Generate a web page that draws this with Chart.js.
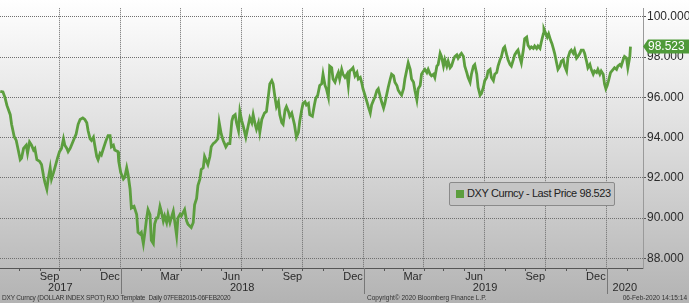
<!DOCTYPE html>
<html><head><meta charset="utf-8">
<script src="https://cdn.jsdelivr.net/npm/chart.js@4.4.1/dist/chart.umd.min.js"></script>
<style>
html,body{margin:0;padding:0;}
body{width:689px;height:303px;overflow:hidden;position:relative;background:linear-gradient(to bottom,#ffffff 0%,#e0e0e0 42%,#b3b3b3 100%);font-family:"Liberation Sans",Arial,sans-serif;}
#c{position:absolute;left:0;top:0;}
#legend{position:absolute;left:449px;top:182px;width:166px;height:24px;box-sizing:border-box;border:1px solid #8a8a8a;border-radius:2px;background:#c5c5c5;}
#legend .sw{position:absolute;left:6px;top:7px;width:8px;height:8px;background:#5c9e3e;}
#legtext{position:absolute;left:17px;top:4px;font-size:11px;line-height:13px;letter-spacing:-0.4px;color:#222;white-space:pre;}
.foot{position:absolute;top:294px;font-size:6.5px;line-height:8px;color:#333;white-space:pre;}
</style></head><body>
<canvas id="c" width="689" height="303"></canvas>
<div id="legend"><span class="sw"></span><span id="legtext"></span></div>
<div class="foot" id="f1" style="left:2px;letter-spacing:-0.2px">DXY Curncy (DOLLAR INDEX SPOT) RJO Template  Daily 07FEB2015-06FEB2020</div>
<div class="foot" id="f2" style="left:367px">Copyright© 2020 Bloomberg Finance L.P.</div>
<div class="foot" id="f3" style="right:2px">06-Feb-2020 14:15:14</div>
<script>
// x values: days since 2017-07-01
const days = [3,7,10,13,18,20,24,27,30,33,35,38,42,44,47,50,53,55,58,62,65,68,70,73,75,78,80,83,85,89,92,95,98,100,103,105,108,110,114,117,120,123,127,130,133,135,138,140,143,145,148,150,153,155,158,162,165,168,170,173,175,180,181,184,188,190,193,195,198,200,204,208,210,213,215,218,220,223,225,228,230,233,235,238,240,243,245,248,250,253,255,258,260,263,265,268,270,273,275,280,283,285,290,293,295,298,300,303,305,308,310,313,315,318,320,323,326,330,332,335,338,342,345,348,351,353,356,358,361,363,366,368,372,375,378,381,383,386,388,391,393,396,400,403,406,408,411,413,416,418,421,423,426,428,431,433,436,438,441,445,448,451,453,456,458,461,463,466,468,472,475,477,480,483,486,488,491,493,496,498,501,503,506,509,511,513,516,518,521,524,526,528,531,533,536,539,541,544,546,548,551,554,556,559,561,564,566,569,571,574,576,579,581,584,586,589,591,594,596,599,601,604,606,609,611,614,616,619,621,624,626,629,631,634,636,639,641,644,646,649,651,654,656,659,661,664,666,669,671,674,676,679,681,684,686,689,691,694,696,699,701,704,706,709,711,714,716,719,721,724,726,729,731,734,736,739,741,744,746,749,751,754,756,759,761,764,766,769,771,774,776,779,781,784,786,789,791,794,796,799,801,804,806,809,811,814,816,819,820,822,825,827,830,832,834,836,839,841,844,846,849,851,854,856,859,861,864,866,869,871,874,876,879,881,884,886,889,891,894,896,899,901,904,906,909,911,913,915,917,920,924,926,929,931,934,936,939,941,944,946,949,950];
const dxy = [96.30,96.27,96.00,95.60,95.14,94.66,94.04,93.86,93.38,92.90,92.98,93.46,93.62,93.22,93.78,93.62,93.38,93.46,92.90,92.82,92.66,92.10,91.78,91.43,91.94,92.50,91.94,92.26,92.50,92.98,93.30,93.46,93.94,93.62,93.46,93.30,93.46,93.62,93.94,94.18,94.66,94.90,94.98,94.90,94.74,94.34,93.94,93.86,94.02,93.62,93.06,92.90,93.22,93.14,93.46,93.86,94.10,94.10,93.54,93.62,93.38,93.30,92.82,92.26,91.94,92.02,92.50,92.18,91.46,90.50,90.58,90.18,89.29,89.21,89.29,88.73,89.21,90.01,90.42,90.18,88.89,88.73,89.70,90.01,90.01,90.58,90.34,89.86,90.10,89.78,90.18,89.78,90.01,90.34,89.86,89.13,90.01,90.18,90.10,90.42,89.86,89.70,89.53,89.78,90.66,90.98,91.62,91.94,92.42,92.50,93.06,92.82,92.66,93.06,93.54,93.70,93.78,93.94,94.74,94.18,93.86,93.54,93.70,93.70,94.82,95.06,95.14,94.74,94.34,95.30,94.82,94.58,94.02,94.50,94.98,94.74,95.14,94.66,94.42,94.74,94.26,94.90,95.22,95.30,96.10,96.67,96.83,96.67,95.95,95.54,95.78,95.14,94.74,94.66,95.38,95.54,95.30,95.06,95.22,94.66,94.02,94.26,94.82,95.38,95.70,95.78,95.62,95.70,95.14,95.06,95.62,95.95,96.10,96.59,96.67,97.15,96.59,96.43,96.02,97.55,97.47,96.91,96.75,97.07,97.23,96.91,97.39,97.15,96.99,97.15,96.59,97.31,97.39,97.47,97.07,97.23,96.91,96.99,96.75,96.43,96.11,95.78,95.54,95.22,95.62,95.87,96.02,96.35,96.43,96.02,95.78,95.47,95.71,96.19,96.50,96.91,97.15,97.07,96.75,96.59,96.35,96.19,96.11,96.43,96.91,97.39,97.71,97.39,96.91,96.75,96.35,95.87,96.43,96.59,97.15,97.31,97.39,97.23,97.39,97.15,97.07,97.15,96.99,97.55,97.63,98.19,98.03,97.55,97.87,97.55,97.79,97.47,97.55,97.87,98.03,98.11,97.95,98.11,98.19,98.03,97.55,97.23,96.99,96.75,97.15,97.55,97.63,97.15,96.50,96.11,96.19,96.50,96.83,96.99,97.31,97.39,96.99,96.83,97.15,97.23,97.55,97.87,98.03,98.43,98.51,98.11,97.87,97.63,97.55,97.87,98.11,98.27,98.35,97.95,97.71,98.35,98.91,98.99,98.59,98.43,98.51,98.43,98.55,98.43,98.55,98.43,98.75,99.15,99.39,99.23,98.99,99.15,98.83,98.67,98.43,98.19,97.71,97.39,97.55,97.79,97.87,97.55,97.31,97.95,98.27,98.35,98.19,98.35,97.95,98.03,98.19,98.35,98.35,98.19,97.79,97.47,97.63,97.39,97.15,97.31,97.23,97.39,97.15,97.31,97.15,96.67,96.43,96.59,96.83,97.23,97.39,97.47,97.39,97.55,97.63,97.55,97.87,98.03,97.95,97.47,98.03,98.523];
const lastValue = 98.523;
const seriesName = 'DXY Curncy - Last Price';
const yTickValues = [88,90,92,94,96,98,100];
const quarterDays = [92,184,274,365,457,549,639,730,822,914];
const monthStartDays = [31,62,92,123,153,184,215,243,274,304,335,365,396,427,457,488,518,549,580,608,639,669,700,730,761,792,822,853,883,914,945];
const monthLabels = ['Sep','Dec','Mar','Jun','Sep','Dec','Mar','Jun','Sep','Dec'];
const monthLabelDays = [77,168,258,350,442,533,623,715,807,898];
const yearLabels = ['2017','2018','2019','2020'];
const yearStartDays = [184,549,914];
const xMin = 2.6, xMax = 968.8, yMin = 87.52, yMax = 100.43;

document.getElementById('legtext').textContent = seriesName + ' ' + lastValue.toFixed(3);

Chart.defaults.font.family = '"Liberation Sans", Arial, sans-serif';

const bbPlugin = {
  id: 'bb',
  afterDraw(chart) {
    const {ctx, chartArea: ca, scales: {x, y}} = chart;
    ctx.save();
    ctx.strokeStyle = '#555'; ctx.lineWidth = 1;
    monthStartDays.forEach(d => {
      const px = Math.round(x.getPixelForValue(d)) + 0.5;
      ctx.beginPath(); ctx.moveTo(px, ca.bottom); ctx.lineTo(px, ca.bottom + 3); ctx.stroke();
    });
    ctx.strokeStyle = '#777';
    yearStartDays.forEach(d => {
      const px = Math.round(x.getPixelForValue(d)) + 0.5;
      ctx.beginPath(); ctx.moveTo(px, ca.bottom); ctx.lineTo(px, ca.bottom + 26); ctx.stroke();
    });
    ctx.fillStyle = '#2a2a2a';
    ctx.font = '11px "Liberation Sans", Arial, sans-serif';
    ctx.textAlign = 'center'; ctx.textBaseline = 'middle';
    monthLabelDays.forEach((d, i) => ctx.fillText(monthLabels[i], x.getPixelForValue(d), ca.bottom + 8.5));
    const bounds = [xMin, ...yearStartDays, xMax];
    yearLabels.forEach((t, i) => {
      const cx = (x.getPixelForValue(bounds[i]) + x.getPixelForValue(bounds[i + 1])) / 2;
      ctx.fillText(t, cx, ca.bottom + 19.5);
    });
    // last price tag
    const py = y.getPixelForValue(lastValue);
    ctx.fillStyle = '#4f9a39';
    ctx.beginPath();
    ctx.moveTo(ca.right, py); ctx.lineTo(ca.right + 5, py - 7); ctx.lineTo(chart.width, py - 7);
    ctx.lineTo(chart.width, py + 7); ctx.lineTo(ca.right + 5, py + 7); ctx.closePath(); ctx.fill();
    ctx.fillStyle = '#ffffff';
    ctx.font = '12px "Liberation Sans", Arial, sans-serif';
    ctx.textAlign = 'left';
    ctx.fillText(lastValue.toFixed(3), ca.right + 5, py + 0.5);
    ctx.restore();
  }
};

new Chart(document.getElementById('c'), {
  type: 'line',
  data: {
    datasets: [{
      label: seriesName,
      data: days.map((d, i) => ({x: d, y: dxy[i]})),
      borderColor: '#5c9e3e',
      borderWidth: 2.8,
      pointRadius: 0,
      tension: 0,
      fill: false
    }]
  },
  options: {
    responsive: false,
    animation: false,
    devicePixelRatio: 1,
    layout: {padding: 0},
    plugins: {legend: {display: false}, tooltip: {enabled: false}},
    scales: {
      x: {
        type: 'linear', min: xMin, max: xMax,
        afterFit(s) { s.height = 35; },
        afterBuildTicks(s) { s.ticks = quarterDays.map(v => ({value: v})); },
        ticks: {display: false},
        grid: {color: '#6f6f6f', drawTicks: false, lineWidth: 1},
        border: {display: true, color: '#555', width: 1, dash: [1, 1]}
      },
      y: {
        position: 'right', min: yMin, max: yMax,
        afterFit(s) { s.width = 46; },
        afterBuildTicks(s) { s.ticks = yTickValues.map(v => ({value: v})); },
        ticks: {callback: v => Number(v).toFixed(3), color: '#2a2a2a', font: {size: 12}, padding: 1},
        grid: {color: '#6f6f6f', lineWidth: 1, tickLength: 3, tickColor: '#555'},
        border: {display: true, color: '#9a9a9a', width: 1, dash: [1, 1]}
      }
    }
  },
  plugins: [bbPlugin]
});
</script>
</body></html>
